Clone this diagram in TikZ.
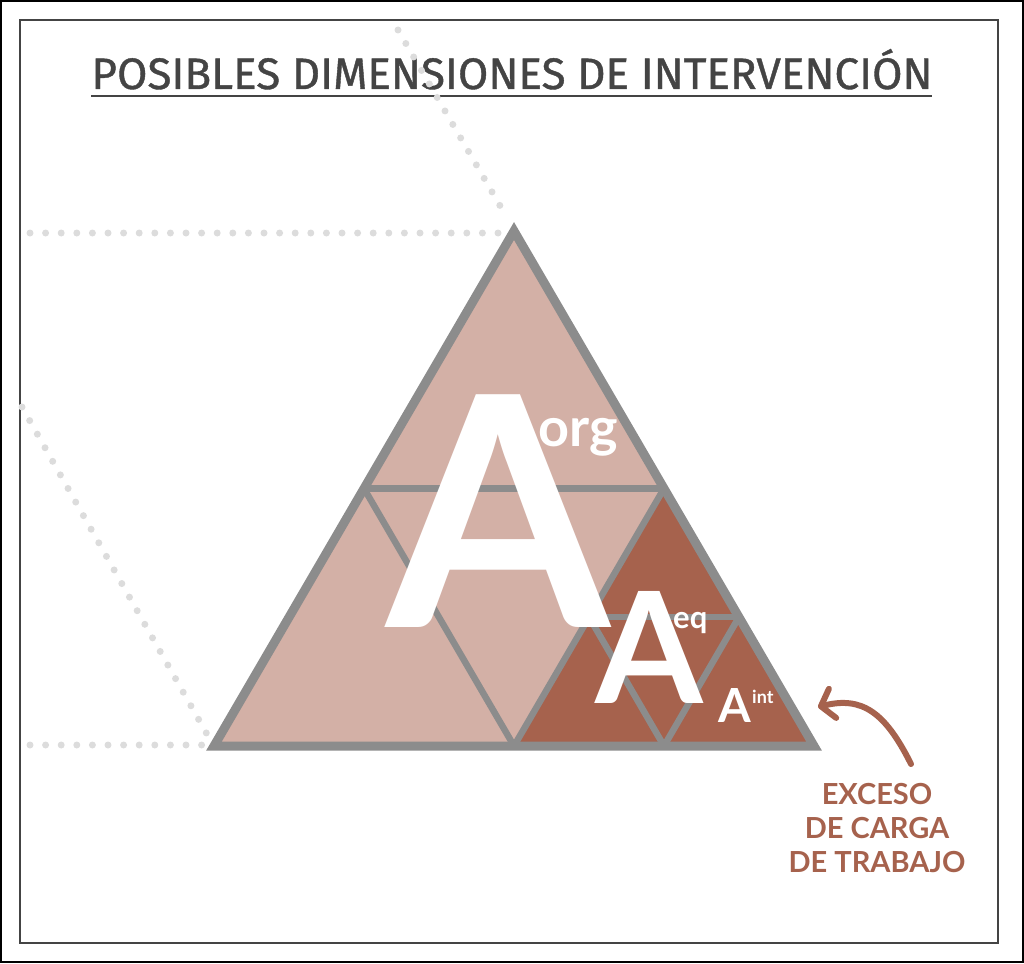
\documentclass[tikz,border=0pt]{standalone}
\usepackage{fontspec}
\setmainfont{Fira Sans}
\newfontfamily\titlefont[FakeBold=0.9]{Fira Sans}
\newfontfamily\letterfont{Lato}
\usetikzlibrary{arrows.meta}
\definecolor{lightpink}{HTML}{D3B0A6}
\definecolor{darkbrown}{HTML}{A6624D}
\definecolor{edgegray}{HTML}{8C8C8C}
\definecolor{dotgray}{HTML}{DCDCDC}
\definecolor{titlegray}{HTML}{444444}
\tikzset{
  dotline/.style={draw=dotgray,line width=7pt,line cap=round,dash pattern=on 0pt off 15.6pt},
  inner/.style={draw=edgegray,line width=6.5pt},
  outer/.style={draw=edgegray,line width=9pt,line join=miter},
  letter/.style={text=white,inner sep=0pt,anchor=base west},
  note/.style={text=darkbrown,inner sep=0pt,anchor=base,font=\letterfont\bfseries\fontsize{29}{29}\selectfont},
}
\begin{document}
\begin{tikzpicture}[x=1pt,y=-1pt]
\useasboundingbox (0,0) rectangle (1024,963);
\draw[black,line width=2pt] (1,1) rectangle (1023,962);
\draw[titlegray,line width=1.5pt] (20,20) rectangle (998,943);
% title
\node[text=titlegray,inner sep=0pt,anchor=base] (title) at (512,89) {\fontsize{44}{44}\titlefont POSIBLES DIMENSIONES DE INTERVENCIÓN};
\draw[titlegray,line width=2pt] (91,96) -- (932,96);
% key points
\coordinate (T) at (514,231);
\coordinate (BL) at (214,746);
\coordinate (BR) at (814,746);
\coordinate (L) at (364,488.5);
\coordinate (R) at (664,488.5);
\coordinate (B) at (514,746);
\coordinate (RB1) at (589,617);
\coordinate (RB2) at (739,617);
\coordinate (RB3) at (664,746);
% dotted guides
\coordinate (d1) at (30,233);
\coordinate (d2) at (500,233);
\coordinate (d3) at (398,30);
\coordinate (d4) at (506,216);
\coordinate (d5) at (22,407);
\coordinate (d6) at (208,736);
\coordinate (d7) at (30,745);
\coordinate (d8) at (205,745);
\draw[dotline] (d1) -- (d2);
\draw[dotline] (d3) -- (d4);
\draw[dotline] (d5) -- (d6);
\draw[dotline] (d7) -- (d8);
% fills
\fill[lightpink] (T) -- (BL) -- (BR) -- cycle;
\fill[darkbrown] (R) -- (B) -- (BR) -- cycle;
% inner lines
\draw[inner] (L) -- (R);
\draw[inner] (L) -- (B);
\draw[inner] (R) -- (B);
\draw[inner] (RB1) -- (RB2);
\draw[inner] (RB1) -- (RB3);
\draw[inner] (RB2) -- (RB3);
\draw[outer] (T) -- (BL) -- (BR) -- cycle;
% letters
\node[letter,font=\letterfont\bfseries\fontsize{322}{322}\selectfont] (Aorg) at (386,627) {A};
\node[letter,font=\letterfont\bfseries\fontsize{54}{54}\selectfont] (org) at (538,446) {org};
\node[letter,font=\letterfont\bfseries\fontsize{155}{155}\selectfont] (Aeq) at (595,703) {A};
\node[letter,font=\letterfont\bfseries\fontsize{31}{31}\selectfont] (eq) at (673,628) {eq};
\node[letter,font=\letterfont\bfseries\fontsize{47}{47}\selectfont] (Aint) at (718,722) {A};
\node[letter,font=\letterfont\bfseries\fontsize{18}{18}\selectfont] (int) at (752,703) {int};
% annotation
\node[note] (exc1) at (877,804) {EXCESO};
\node[note] (exc2) at (877,838) {DE CARGA};
\node[note] (exc3) at (877,872) {DE TRABAJO};
\coordinate (arrstart) at (911,764);
\coordinate (arrend) at (818,707);
\draw[darkbrown,line width=6pt,line cap=round,-{Straight Barb[round,length=12pt,width=30pt]}] (arrstart) .. controls (885,712) and (862,696) .. (arrend);
\end{tikzpicture}
\end{document}
